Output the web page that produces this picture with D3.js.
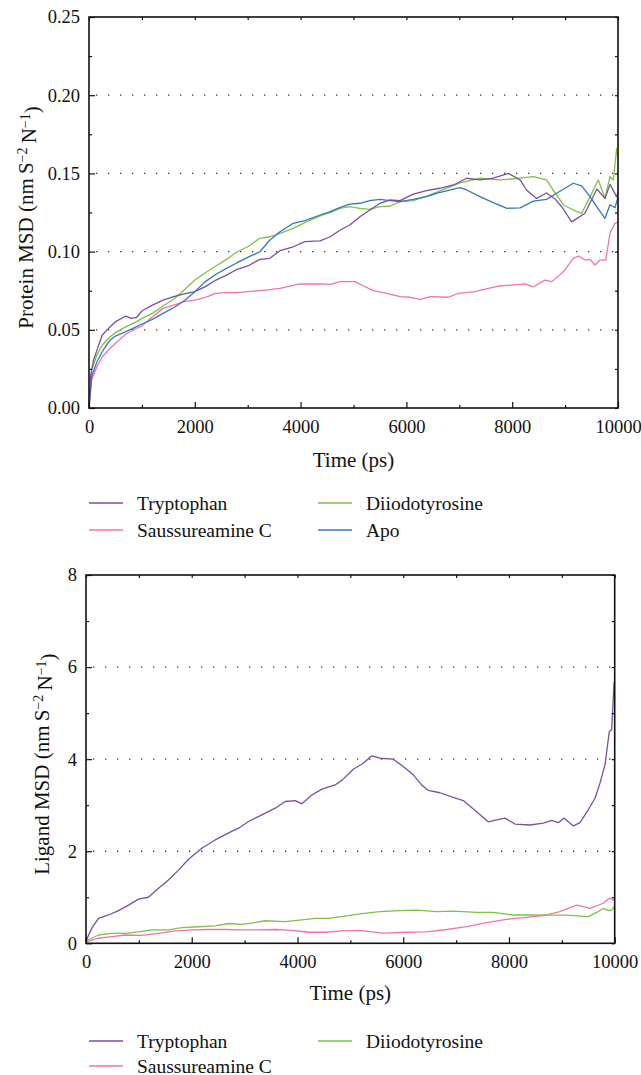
<!DOCTYPE html>
<html>
<head>
<meta charset="utf-8">
<script src="https://cdn.jsdelivr.net/npm/d3@7"></script>
<style>
  body { margin: 0; background: #fff; }
  svg { display: block; }
  text { font-family: "Liberation Serif", "DejaVu Serif", serif; fill: #111; }
</style>
</head>
<body>
<svg id="chart" width="641" height="1075"></svg>
<script>
// ---- data (time in ps) ----
const timeTicks = [0, 2000, 4000, 6000, 8000, 10000];
const timeMinor = [1000, 3000, 5000, 7000, 9000];
const proteinTicks = [0, 0.05, 0.10, 0.15, 0.20, 0.25];
const proteinMinor = [0.025, 0.075, 0.125, 0.175, 0.225];
const ligandTicks = [0, 2, 4, 6, 8];
const ligandMinor = [1, 3, 5, 7];

const names = ["Tryptophan", "Saussureamine C", "Diiodotyrosine", "Apo"];
const colors = {
  "Tryptophan": "#7b4ea6",
  "Saussureamine C": "#f173ac",
  "Diiodotyrosine": "#7cc243",
  "Apo": "#2f79c2"
};

const proteinTryptophan = [[0,0],[30,0.02],[80,0.03],[150,0.037],[250,0.0467],[400,0.052],[500,0.0552],[700,0.0588],[800,0.0573],[900,0.058],[1000,0.062],[1200,0.0658],[1400,0.069],[1600,0.0712],[1800,0.0729],[2000,0.0744],[2200,0.0776],[2400,0.0818],[2600,0.085],[2800,0.0887],[3000,0.0908],[3230,0.095],[3420,0.0957],[3610,0.1006],[3860,0.1031],[4080,0.1064],[4370,0.1068],[4560,0.1095],[4750,0.1138],[4930,0.117],[5120,0.1223],[5310,0.1266],[5500,0.1309],[5690,0.133],[5880,0.1326],[6130,0.1368],[6380,0.139],[6630,0.1405],[6890,0.1426],[7140,0.1469],[7390,0.1458],[7640,0.147],[7930,0.150],[8150,0.1458],[8270,0.1394],[8460,0.134],[8650,0.1375],[8800,0.134],[8935,0.1287],[9124,0.119],[9376,0.1245],[9600,0.140],[9754,0.134],[9849,0.143],[9975,0.135],[10000,0.138]];
const proteinSaussureamine = [[0,0],[50,0.0179],[150,0.0264],[250,0.0328],[400,0.0382],[500,0.0414],[700,0.0473],[900,0.051],[1000,0.0524],[1200,0.0584],[1400,0.0637],[1600,0.0658],[1800,0.068],[2000,0.069],[2200,0.0708],[2400,0.0733],[2600,0.0738],[2800,0.0738],[3000,0.0744],[3330,0.0754],[3610,0.0765],[3990,0.0793],[4370,0.0793],[4560,0.079],[4750,0.0808],[5030,0.0808],[5190,0.078],[5375,0.075],[5630,0.0733],[5880,0.0712],[6070,0.0708],[6260,0.0695],[6450,0.0712],[6790,0.0708],[6980,0.0733],[7300,0.0744],[7550,0.0765],[7740,0.078],[7990,0.0786],[8240,0.0793],[8400,0.0775],[8620,0.0818],[8750,0.0808],[8970,0.0872],[9155,0.0957],[9250,0.0972],[9376,0.0946],[9470,0.095],[9565,0.0914],[9660,0.0946],[9767,0.0946],[9849,0.1117],[9943,0.1181],[10000,0.119]];
const proteinDiiodotyrosine = [[0,0],[50,0.024],[150,0.034],[250,0.0403],[400,0.0456],[500,0.0482],[700,0.052],[900,0.0552],[1000,0.0573],[1200,0.0605],[1400,0.0652],[1600,0.0695],[1800,0.0754],[2000,0.0818],[2200,0.0865],[2400,0.0908],[2600,0.095],[2800,0.0999],[3000,0.1031],[3230,0.1085],[3420,0.1095],[3610,0.1117],[3860,0.1149],[4080,0.1185],[4370,0.1228],[4560,0.1249],[4750,0.1277],[4930,0.1287],[5120,0.1277],[5310,0.127],[5500,0.1287],[5690,0.129],[5880,0.1319],[6130,0.1326],[6380,0.1355],[6600,0.1383],[7010,0.144],[7390,0.1469],[7770,0.1458],[8150,0.147],[8400,0.1479],[8650,0.1458],[8780,0.139],[8970,0.1298],[9155,0.1266],[9313,0.1245],[9470,0.135],[9628,0.1458],[9754,0.134],[9849,0.148],[9912,0.1458],[9975,0.166],[10000,0.16]];
const proteinApo = [[0,0],[50,0.02],[150,0.0296],[250,0.036],[400,0.0435],[500,0.046],[700,0.0488],[900,0.052],[1000,0.0537],[1200,0.0567],[1400,0.0605],[1600,0.0641],[1800,0.0686],[2000,0.0744],[2200,0.0808],[2400,0.0855],[2600,0.0893],[2800,0.0929],[3000,0.0963],[3230,0.0999],[3420,0.1074],[3610,0.1127],[3860,0.1181],[4080,0.1198],[4370,0.1234],[4560,0.1255],[4750,0.1283],[4930,0.1304],[5120,0.1309],[5310,0.1326],[5500,0.1334],[5690,0.1326],[5880,0.1319],[6130,0.1334],[6380,0.1351],[6600,0.1375],[7010,0.1409],[7140,0.1394],[7390,0.1351],[7640,0.1313],[7900,0.1277],[8150,0.128],[8400,0.1323],[8650,0.1334],[8840,0.1373],[9000,0.1405],[9155,0.1437],[9313,0.142],[9470,0.1351],[9597,0.1287],[9754,0.1213],[9849,0.13],[9943,0.128],[10000,0.135]];

const ligandTryptophan = [[0,0.05],[110,0.33],[236,0.54],[425,0.615],[615,0.71],[804,0.83],[993,0.96],[1182,1.0],[1371,1.195],[1560,1.376],[1750,1.59],[1939,1.826],[2191,2.065],[2443,2.245],[2696,2.40],[2885,2.5],[3074,2.645],[3326,2.79],[3578,2.935],[3767,3.08],[3957,3.1],[4083,3.03],[4272,3.22],[4461,3.35],[4713,3.44],[4850,3.55],[5055,3.78],[5244,3.91],[5401,4.07],[5559,4.02],[5811,4.0],[6000,3.84],[6190,3.66],[6348,3.44],[6473,3.32],[6694,3.27],[6946,3.17],[7136,3.1],[7388,2.86],[7609,2.64],[7767,2.68],[7924,2.72],[8113,2.59],[8397,2.57],[8649,2.61],[8807,2.67],[8933,2.62],[9040,2.72],[9217,2.55],[9343,2.62],[9500,2.9],[9627,3.15],[9722,3.48],[9817,3.88],[9898,4.6],[9943,4.64],[9987,5.65],[10000,5.7]];
const ligandSaussureamine = [[0,0.03],[236,0.11],[489,0.145],[741,0.18],[1056,0.17],[1371,0.217],[1687,0.27],[2002,0.29],[2317,0.3],[2633,0.3],[2948,0.29],[3263,0.29],[3578,0.3],[3894,0.28],[4209,0.24],[4524,0.24],[4839,0.27],[5180,0.28],[5622,0.22],[6063,0.24],[6442,0.25],[6820,0.30],[7199,0.36],[7577,0.45],[7955,0.52],[8334,0.565],[8712,0.615],[8964,0.69],[9280,0.83],[9532,0.76],[9785,0.87],[9898,0.98],[10000,0.93]];
const ligandDiiodotyrosine = [[0,0.05],[236,0.18],[489,0.217],[741,0.217],[993,0.25],[1245,0.29],[1560,0.29],[1813,0.34],[2128,0.36],[2443,0.38],[2696,0.43],[2948,0.41],[3137,0.44],[3389,0.49],[3767,0.47],[4083,0.51],[4335,0.54],[4587,0.54],[4900,0.59],[5180,0.64],[5559,0.69],[5937,0.71],[6253,0.72],[6631,0.69],[6946,0.70],[7388,0.67],[7703,0.67],[8082,0.615],[8460,0.615],[8712,0.61],[9091,0.61],[9500,0.58],[9658,0.67],[9785,0.76],[9880,0.71],[9943,0.72],[10000,0.80]];

let svg = d3.select("#chart");
const tickFont = 18.5;
const titleFont = 21;
const legendFont = 19.5;

drawPanel({
  left: 89, right: 618, top: 17, bottom: 408,
  yDomain: [0, 0.25], yTicks: proteinTicks, yMinor: proteinMinor, yFormat: d3.format(".2f"),
  yLabel: "Protein MSD", labelX: 33,
  series: [
    ["Saussureamine C", proteinSaussureamine],
    ["Diiodotyrosine", proteinDiiodotyrosine],
    ["Apo", proteinApo],
    ["Tryptophan", proteinTryptophan]
  ],
  xLabelY: 467, legendY: 503, legendGap: 27,
  legend: names
});

drawPanel({
  left: 86, right: 614.7, top: 575, bottom: 943.3,
  yDomain: [0, 8], yTicks: ligandTicks, yMinor: ligandMinor, yFormat: d3.format("d"),
  yLabel: "Ligand MSD", labelX: 49,
  series: [
    ["Saussureamine C", ligandSaussureamine],
    ["Diiodotyrosine", ligandDiiodotyrosine],
    ["Tryptophan", ligandTryptophan]
  ],
  xLabelY: 1000, legendY: 1041, legendGap: 25,
  legend: ["Tryptophan", "Saussureamine C", "Diiodotyrosine"]
});

function drawPanel(cfg) {
  let x = d3.scaleLinear().domain([0, 10000]).range([cfg.left, cfg.right]);
  let y = d3.scaleLinear().domain(cfg.yDomain).range([cfg.bottom, cfg.top]);
  let g = svg.append("g");

  // dotted grid
  g.selectAll(".grid")
    .data(cfg.yTicks.filter(d => d > cfg.yDomain[0] && d < cfg.yDomain[1]))
    .join("line")
    .attr("x1", cfg.left + 7).attr("x2", cfg.right)
    .attr("y1", d => y(d)).attr("y2", d => y(d))
    .attr("stroke", "#333").attr("stroke-width", 1.3)
    .attr("stroke-dasharray", "1.3 10.7");

  // lines
  let line = d3.line().x(d => x(d[0])).y(d => y(d[1]));
  cfg.series.forEach(([name, values]) => {
    g.append("path")
      .datum(values)
      .attr("d", line)
      .attr("fill", "none")
      .attr("stroke", colors[name])
      .attr("stroke-width", 1.3)
      .attr("stroke-linejoin", "round");
  });

  // axes with inward ticks
  let xBottom = d3.axisBottom(x).tickValues(timeTicks).tickSizeInner(-6).tickSizeOuter(0)
    .tickPadding(12).tickFormat(d3.format("d"));
  let xBottomMinor = d3.axisBottom(x).tickValues(timeMinor).tickSizeInner(-3).tickSizeOuter(0).tickFormat("");
  let xTop = d3.axisTop(x).tickValues(timeTicks.concat(timeMinor)).tickSizeInner(-3).tickSizeOuter(0).tickFormat("");
  let yLeft = d3.axisLeft(y).tickValues(cfg.yTicks).tickSizeInner(-6).tickSizeOuter(0)
    .tickPadding(9).tickFormat(cfg.yFormat);
  let yLeftMinor = d3.axisLeft(y).tickValues(cfg.yMinor).tickSizeInner(-3).tickSizeOuter(0).tickFormat("");
  let yRight = d3.axisRight(y).tickValues(cfg.yTicks.concat(cfg.yMinor)).tickSizeInner(-3).tickSizeOuter(0).tickFormat("");

  g.append("g").attr("transform", `translate(0,${cfg.bottom})`).call(xBottom);
  g.append("g").attr("transform", `translate(0,${cfg.bottom})`).call(xBottomMinor);
  g.append("g").attr("transform", `translate(0,${cfg.top})`).call(xTop);
  g.append("g").attr("transform", `translate(${cfg.left},0)`).call(yLeft);
  g.append("g").attr("transform", `translate(${cfg.left},0)`).call(yLeftMinor);
  g.append("g").attr("transform", `translate(${cfg.right},0)`).call(yRight);

  g.selectAll(".domain").remove();
  g.selectAll(".tick line").attr("stroke", "#111").attr("stroke-width", 1.2);
  g.selectAll(".tick text")
    .style("font-family", '"Liberation Serif", serif')
    .style("font-size", tickFont + "px")
    .attr("fill", "#111");

  // frame
  g.append("rect")
    .attr("x", cfg.left).attr("y", cfg.top)
    .attr("width", cfg.right - cfg.left).attr("height", cfg.bottom - cfg.top)
    .attr("fill", "none").attr("stroke", "#111").attr("stroke-width", 1.6);

  // axis titles
  g.append("text")
    .text("Time (ps)")
    .attr("x", (cfg.left + cfg.right) / 2)
    .attr("y", cfg.xLabelY)
    .style("font-size", titleFont + "px")
    .style("text-anchor", "middle");

  let ylab = g.append("text")
    .attr("transform", `translate(${cfg.labelX},${(cfg.top + cfg.bottom) / 2 + 5}) rotate(-90)`)
    .style("font-size", titleFont + "px")
    .style("text-anchor", "middle");
  ylab.append("tspan").text(cfg.yLabel + " (nm\u2009S");
  ylab.append("tspan").text("\u22122").attr("dy", "-0.45em").style("font-size", "14px");
  ylab.append("tspan").text("\u2009N").attr("dy", "0.45em");
  ylab.append("tspan").text("\u22121").attr("dy", "-0.45em").style("font-size", "14px");
  ylab.append("tspan").text(")").attr("dy", "0.45em");

  // legend, two columns
  let leg = g.selectAll(".legend")
    .data(cfg.legend)
    .join("g")
    .attr("transform", (d, i) => `translate(${i < 2 ? 89 : 318},${cfg.legendY + (i % 2) * cfg.legendGap})`);
  leg.append("line")
    .attr("x1", 0).attr("x2", 34)
    .attr("y1", 0).attr("y2", 0)
    .attr("stroke", d => colors[d]).attr("stroke-width", 1.5);
  leg.append("text")
    .text(d => d)
    .attr("x", 48).attr("y", 6.5)
    .style("font-size", legendFont + "px");
}
</script>
</body>
</html>
